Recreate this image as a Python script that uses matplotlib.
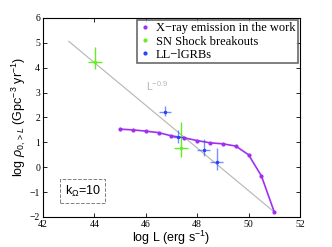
import numpy as np
import matplotlib.pyplot as plt

# X-ray emission curve
logL = [45.0, 45.5, 46.0, 46.5, 47.0, 47.5, 48.0, 48.5, 49.0, 49.5, 50.0, 50.5, 51.0]
logrho = [1.53, 1.50, 1.45, 1.39, 1.26, 1.18, 1.07, 0.98, 0.94, 0.85, 0.50, -0.35, -1.80]

# SN shock breakouts
sn_x = [44.03, 47.37]
sn_y = [4.22, 0.77]
sn_xerr = [0.28, 0.26]
sn_yerr_lo = [0.28, 0.36]
sn_yerr_hi = [0.60, 1.03]

# LL-lGRBs
ll_x = [46.75, 47.27, 48.25, 48.76]
ll_y = [2.21, 1.21, 0.70, 0.20]
ll_xerr = [0.24, 0.20, 0.26, 0.26]
ll_yerr_lo = [0.17, 0.24, 0.24, 0.30]
ll_yerr_hi = [0.27, 0.29, 0.43, 0.57]

# L^-0.9 guide line
guide_x = [43.0, 51.0]
guide_y = [5.06, -1.80]

plt.rcParams['font.family'] = ['Liberation Serif']
plt.rcParams['mathtext.fontset'] = 'custom'
plt.rcParams['mathtext.rm'] = 'Liberation Sans'
plt.rcParams['mathtext.it'] = 'Liberation Sans:italic'
fig = plt.figure(figsize=(3.32, 2.47), dpi=100)
ax = fig.add_axes([0.1295, 0.1215, 0.774, 0.806])

ax.plot(guide_x, guide_y, '-', color='#b4b4b4', lw=0.8)
ax.text(46.0, 3.05, r'$\mathregular{L^{-0.9}}$', color='#b4b4b4', fontsize=7.5, family='Liberation Sans')

purple = '#a030f0'
green = '#66ee22'
blue = '#2244ff'
ax.plot(logL, logrho, '-', color=purple, lw=1.2, marker='o', ms=2)
ax.errorbar(sn_x, sn_y, xerr=sn_xerr, yerr=[sn_yerr_lo, sn_yerr_hi], fmt='none',
            ecolor=green, elinewidth=1, capsize=0)
ax.plot(sn_x, sn_y, 'o', color=green, ms=1.5)
ax.errorbar(ll_x, ll_y, xerr=ll_xerr, yerr=[ll_yerr_lo, ll_yerr_hi], fmt='none',
            ecolor=blue, elinewidth=1, capsize=0, alpha=0.6)
ax.plot(ll_x, ll_y, 'o', color=blue, ms=1.5)

# legend handles
h1, = ax.plot([], [], 'o', color=purple, ms=2, label='X\u2212ray emission in the work')
h2, = ax.plot([], [], 'o', color=green, ms=2, label='SN Shock breakouts')
h3, = ax.plot([], [], 'o', color=blue, ms=2, label='LL\u2212lGRBs')
leg = ax.legend(handles=[h1, h2, h3], loc='upper right', fontsize=9, frameon=True,
                fancybox=False, edgecolor='#444444', handlelength=0.8,
                handletextpad=0.5, borderpad=0.2, labelspacing=0.1,
                borderaxespad=0.15)
leg.get_frame().set_linewidth(1.2)

ax.text(42.85, -1.1, r'$\mathregular{k_{\Omega}}$=10', fontsize=9, family='Liberation Sans',
        bbox=dict(boxstyle='square,pad=0.35', fc='white', ec='#808080', ls='--', lw=0.7))

ax.set_xlim(42, 52)
ax.set_ylim(-2, 6)
ax.set_xticks([42, 44, 46, 48, 50, 52])
ax.set_yticks(range(-2, 7))
ax.tick_params(direction='in', top=True, right=True, labelsize=7, length=3, width=0.6, pad=2)
for s in ax.spines.values():
    s.set_linewidth(0.8)
ax.set_xlabel(r'log L (erg s$^{-1}$)', fontsize=9, family='Liberation Sans', labelpad=0)
ax.set_ylabel(r'log $\rho_{0,>L}$ (Gpc$^{-3}$ yr$^{-1}$)', fontsize=9,
              family='Liberation Sans', labelpad=1)

fig.savefig('out.png', dpi=100)
